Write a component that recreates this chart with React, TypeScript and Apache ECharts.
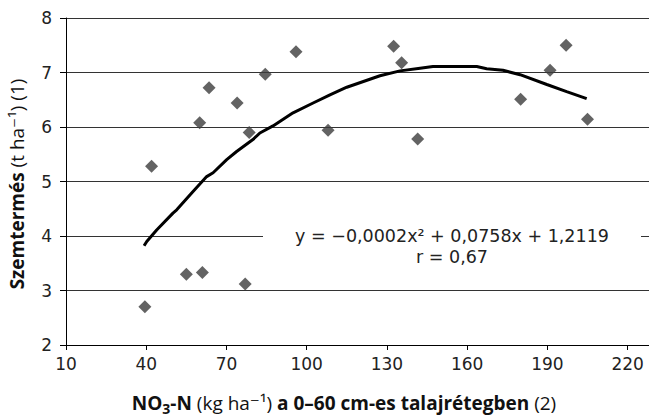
import React, { useEffect, useRef } from "react";
import * as echarts from "echarts";

const pointsX = [39.5, 42, 55, 61, 60, 63.5, 74, 78.5, 77, 84.5, 96, 108, 132.5, 135.5, 141.5, 180, 191, 197, 205];
const pointsY = [2.7, 5.28, 3.3, 3.33, 6.08, 6.72, 6.44, 5.9, 3.12, 6.97, 7.38, 5.94, 7.48, 7.18, 5.78, 6.51, 7.04, 7.5, 6.14];

const trendX = [39.2, 40.2, 43.9, 50.0, 51.4, 57.0, 62.6, 65.0, 70.1, 73.8, 79.9, 82.5, 87.4, 94.9, 102.4, 108.7, 115, 127.4, 134.9, 142.4, 147.2, 163.6, 167.3, 173.4, 179.8, 189.8, 197.2, 204.7];
const trendY = [3.82, 3.9, 4.11, 4.42, 4.48, 4.79, 5.09, 5.16, 5.4, 5.55, 5.77, 5.89, 6.02, 6.26, 6.44, 6.59, 6.73, 6.94, 7.03, 7.08, 7.11, 7.11, 7.07, 7.04, 6.96, 6.78, 6.65, 6.52];

const xTicks = [10, 40, 70, 100, 130, 160, 190, 220];
const yTicks = [2, 3, 4, 5, 6, 7, 8];

const equationText = "y = \u22120,0002x\u00b2 + 0,0758x + 1,2119";
const rText = "r = 0,67";

const FONT = "'DejaVu Sans', 'Open Sans', sans-serif";
const TFONT = "'Open Sans', 'DejaVu Sans', sans-serif";

export default function App() {
  const ref = useRef<HTMLDivElement>(null);
  useEffect(() => {
    if (!ref.current) return;
    const chart = echarts.init(ref.current, null, { renderer: "svg" });
    chart.setOption({
      animation: false,
      textStyle: { fontFamily: FONT },
      grid: { left: 66, top: 18, right: 0, bottom: 72 },
      xAxis: {
        type: "value",
        min: 10,
        max: 228,
        interval: 30,
        axisLine: { show: true, lineStyle: { color: "#000", width: 1 } },
        axisTick: { show: true, length: 5, lineStyle: { color: "#000" } },
        axisLabel: {
          margin: 10,
          fontSize: 17,
          color: "#222",
          fontFamily: FONT,
          showMaxLabel: false,
          formatter: (v: number) => (xTicks.includes(v) ? String(v) : ""),
        },
        splitLine: { show: false },
      },
      yAxis: {
        type: "value",
        min: yTicks[0],
        max: yTicks[yTicks.length - 1],
        interval: 1,
        axisLine: { show: true, lineStyle: { color: "#000", width: 1 } },
        axisTick: { show: true, length: 6, lineStyle: { color: "#000" } },
        axisLabel: { margin: 14, fontSize: 17, color: "#222", fontFamily: FONT },
        splitLine: { show: true, lineStyle: { color: "#333", width: 1 } },
      },
      series: [
        {
          type: "scatter",
          data: pointsX.map((x, i) => [x, pointsY[i]]),
          symbol: "diamond",
          symbolSize: 13,
          itemStyle: { color: "#3c3c3c" },
          z: 3,
        },
        {
          type: "line",
          data: trendX.map((x, i) => [x, trendY[i]]),
          showSymbol: false,
          symbol: "none",
          lineStyle: { color: "#000", width: 3 },
          z: 4,
        },
      ],
      graphic: [
        {
          type: "rect",
          z: 50,
          shape: { x: 263, y: 226, width: 378, height: 20 },
          style: { fill: "#fff" },
        },
        {
          type: "text",
          z: 51,
          x: 452,
          y: 236,
          style: {
            text: equationText,
            fill: "#222",
            font: `17.5px ${FONT}`,
            align: "center",
            verticalAlign: "middle",
          },
        },
        {
          type: "text",
          z: 51,
          x: 452,
          y: 257,
          style: {
            text: rText,
            fill: "#222",
            font: `17.5px ${FONT}`,
            align: "center",
            verticalAlign: "middle",
          },
        },
        {
          type: "text",
          z: 51,
          x: 344,
          y: 403,
          style: {
            text: "{b|NO}{sub|3}{b|-N}{n| (kg ha\u207b\u00b9) }{b|a 0\u201360 cm-es talajrétegben}{n| (2)}",
            align: "center",
            verticalAlign: "middle",
            rich: {
              b: { fontSize: 19, fontWeight: "bold", fill: "#111", fontFamily: TFONT, lineHeight: 24, verticalAlign: "middle" },
              n: { fontSize: 19, fill: "#111", fontFamily: TFONT, lineHeight: 24, verticalAlign: "middle" },
              sub: { fontSize: 14, fontWeight: "bold", fill: "#111", fontFamily: TFONT, lineHeight: 14, verticalAlign: "bottom" },
            },
          },
        },
        {
          type: "text",
          z: 51,
          x: 17,
          y: 184,
          rotation: Math.PI / 2,
          style: {
            text: "{b|Szemtermés}{n| (t ha\u207b\u00b9) (1)}",
            align: "center",
            verticalAlign: "middle",
            rich: {
              b: { fontSize: 19, fontWeight: "bold", fill: "#111", fontFamily: TFONT },
              n: { fontSize: 19, fill: "#111", fontFamily: TFONT },
            },
          },
        },
      ],
    });
    return () => chart.dispose();
  }, []);
  return (
    <div
      ref={ref}
      style={{ position: "fixed", left: 0, top: 0, width: 649, height: 417, background: "#fff" }}
    />
  );
}
